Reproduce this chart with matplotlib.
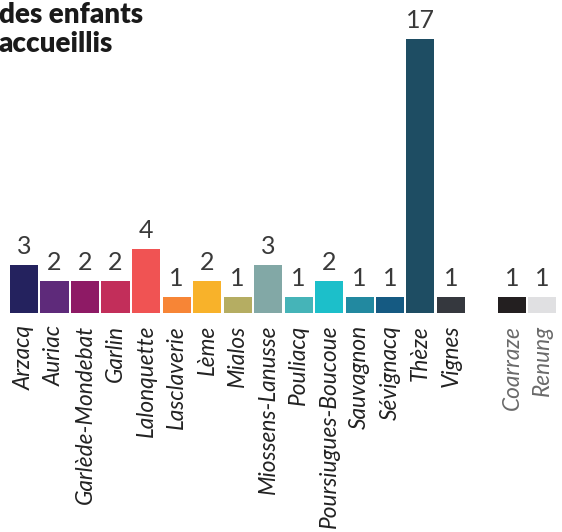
import numpy as np
import matplotlib
matplotlib.use('Agg')
import matplotlib.pyplot as plt

# communes du groupe principal
communes = ['Arzacq', 'Auriac', 'Garlède-Mondebat', 'Garlin', 'Lalonquette',
            'Lasclaverie', 'Lème', 'Mialos', 'Miossens-Lanusse', 'Pouliacq',
            'Poursiugues-Boucoue', 'Sauvagnon', 'Sévignacq', 'Thèze', 'Vignes']
enfants = [3, 2, 2, 2, 4, 1, 2, 1, 3, 1, 2, 1, 1, 17, 1]
couleurs = ['#24225e', '#5e2a7a', '#8e1a65', '#c22e5a', '#f05353',
            '#f78536', '#f8b22a', '#b5ad62', '#82a8a6', '#45b4b8',
            '#1cbfca', '#2289a0', '#155a82', '#1e4d63', '#35383e']

# communes hors groupe
autres = ['Coarraze', 'Renung']
enfants_autres = [1, 1]
couleurs_autres = ['#231f20', '#e0e0e2']

W, H = 562, 532
fig = plt.figure(figsize=(W / 100, H / 100), dpi=100)
base = 313          # baseline, px from top
px_per_unit = 16.1
ax = fig.add_axes([0, (H - base) / H, 1, base / H])

x_main = np.arange(len(communes))
x_autres = len(communes) + 1 + np.arange(len(autres))
xs = np.concatenate([x_main, x_autres])
vals = enfants + enfants_autres
cols = couleurs + couleurs_autres
labels = communes + autres

pitch = 30.5
ax.bar(xs, vals, width=28 / pitch, color=cols)
ax.set_xlim(-24 / pitch, 17 + (W - 542.5) / pitch)
ax.set_ylim(0, base / px_per_unit)

for x, v in zip(xs, vals):
    ax.annotate(str(v), (x, v), xytext=(0, 5), textcoords='offset points',
                ha='center', va='bottom', fontsize=18, fontfamily='Lato',
                fontweight='normal', color='#3a3a3a')

ax.set_xticks(xs)
ax.set_xticklabels(labels, rotation=90, fontsize=16.3, fontfamily='Lato',
                   fontstyle='italic', fontweight='normal', va='top', ha='center')
for lab in ax.get_xticklabels()[len(communes):]:
    lab.set_color('#6a6a6a')
for lab in ax.get_xticklabels()[:len(communes)]:
    lab.set_color('#222222')
ax.tick_params(axis='x', length=0, pad=8.5)
ax.set_yticks([])
for s in ax.spines.values():
    s.set_visible(False)

fig.text(-0.002, 1 - 23 / H, 'des enfants', fontsize=20, fontfamily='Lato',
         fontweight='heavy', color='#1a1a1a', va='baseline', ha='left')
fig.text(-0.002, 1 - 52 / H, 'accueillis', fontsize=20, fontfamily='Lato',
         fontweight='heavy', color='#1a1a1a', va='baseline', ha='left')

fig.savefig('out.png', dpi=100)
